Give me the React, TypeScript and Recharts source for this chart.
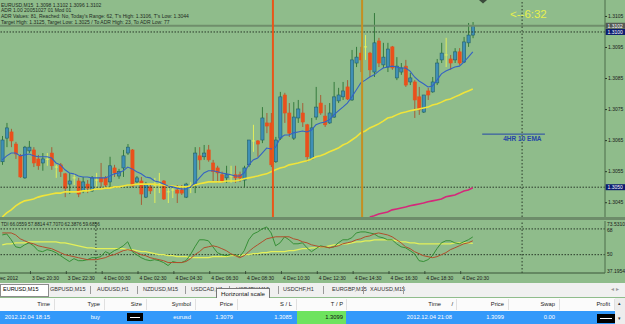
import React from "react";
import { ComposedChart, Bar, Line, XAxis, YAxis, ReferenceLine } from "recharts";

// EURUSD,M15 candles, oldest first
const opens = [
  1.30582, 1.30658, 1.30678, 1.30639, 1.30601, 1.3053, 1.30617, 1.3062, 1.30591, 1.30578,
  1.3059, 1.3061, 1.30565, 1.30572, 1.30543, 1.3051, 1.3053, 1.3052, 1.30488, 1.3051,
  1.30488, 1.30523, 1.3053, 1.3053, 1.30517, 1.30562, 1.30536, 1.30562, 1.3061, 1.3062,
  1.30517, 1.3052, 1.30468, 1.30501, 1.30504, 1.3051, 1.3052, 1.30485, 1.30491, 1.30491,
  1.30491, 1.30468, 1.30504, 1.3051, 1.30601, 1.30598, 1.3062, 1.30578, 1.30562, 1.3054,
  1.3053, 1.30536, 1.3054, 1.3054, 1.30523, 1.30572, 1.30649, 1.30649, 1.30652, 1.30707,
  1.30707, 1.30582, 1.30658, 1.30797, 1.30739, 1.30658, 1.30723, 1.30739, 1.30701, 1.30591,
  1.30726, 1.30771, 1.30729, 1.30707, 1.30726, 1.30778, 1.30791, 1.30823, 1.30781, 1.309,
  1.30932, 1.30952, 1.30932, 1.30871, 1.30971, 1.30894, 1.30887, 1.30952, 1.30852, 1.30871,
  1.3089, 1.30839, 1.30839, 1.30791, 1.30742, 1.3081, 1.30807, 1.30836, 1.3091, 1.30926,
  1.30913, 1.3091, 1.30936, 1.30903, 1.30965, 1.3099,
];
const highs = [
  1.30665, 1.30707, 1.30688, 1.30646, 1.30607, 1.30633, 1.30649, 1.30629, 1.30604, 1.3061,
  1.3061, 1.30629, 1.30572, 1.30578, 1.30546, 1.30546, 1.30546, 1.3053, 1.30533, 1.30523,
  1.30536, 1.30546, 1.30578, 1.30536, 1.30598, 1.30572, 1.30559, 1.3062, 1.30639, 1.30623,
  1.30536, 1.30533, 1.30517, 1.3051, 1.3053, 1.30546, 1.30523, 1.30497, 1.30501, 1.30507,
  1.30507, 1.30514, 1.30517, 1.30629, 1.30629, 1.30636, 1.30636, 1.30588, 1.30569, 1.3055,
  1.30569, 1.30569, 1.30569, 1.3055, 1.30569, 1.30652, 1.30701, 1.30652, 1.30758, 1.30739,
  1.30739, 1.30662, 1.30807, 1.30804, 1.30771, 1.30774, 1.30781, 1.30771, 1.30704, 1.30723,
  1.30823, 1.30797, 1.30765, 1.30771, 1.30839, 1.3082, 1.30839, 1.30845, 1.30942, 1.30952,
  1.30952, 1.3099, 1.30936, 1.31061, 1.30981, 1.30965, 1.30965, 1.30955, 1.30919, 1.309,
  1.3091, 1.30868, 1.30845, 1.30823, 1.30797, 1.3082, 1.30855, 1.30913, 1.30965, 1.30981,
  1.30926, 1.30948, 1.30948, 1.30984, 1.31029, 1.31032,
];
const lows = [
  1.30572, 1.30629, 1.30629, 1.30591, 1.3053, 1.30527, 1.3061, 1.30565, 1.30556, 1.30553,
  1.30569, 1.30556, 1.3053, 1.30533, 1.30468, 1.30478, 1.30507, 1.30468, 1.30481, 1.30481,
  1.30485, 1.30501, 1.30501, 1.30501, 1.30501, 1.30533, 1.30527, 1.30533, 1.30604, 1.30501,
  1.3051, 1.30443, 1.30465, 1.30478, 1.30449, 1.30481, 1.30459, 1.30449, 1.30465, 1.30449,
  1.30475, 1.30465, 1.30481, 1.30481, 1.30556, 1.30588, 1.30582, 1.30517, 1.30514, 1.30514,
  1.30514, 1.30514, 1.30514, 1.30517, 1.30501, 1.30565, 1.30614, 1.30598, 1.30642, 1.30674,
  1.30565, 1.30578, 1.30652, 1.30707, 1.30662, 1.30652, 1.30707, 1.30694, 1.30582, 1.30588,
  1.30717, 1.30733, 1.30694, 1.30704, 1.30723, 1.30771, 1.30781, 1.30781, 1.30778, 1.30887,
  1.30871, 1.3091, 1.30855, 1.30855, 1.30887, 1.30884, 1.30871, 1.30878, 1.30845, 1.30862,
  1.30823, 1.30829, 1.30723, 1.30733, 1.30739, 1.30781, 1.30804, 1.30829, 1.309, 1.30887,
  1.30878, 1.309, 1.30894, 1.309, 1.30952, 1.3098,
];
const closes = [
  1.30652, 1.30691, 1.30649, 1.30607, 1.30533, 1.30629, 1.30629, 1.30578, 1.30569, 1.30591,
  1.3059, 1.30569, 1.30565, 1.3055, 1.30497, 1.3052, 1.3053, 1.30478, 1.30517, 1.30497,
  1.3053, 1.30523, 1.30517, 1.30507, 1.30569, 1.30546, 1.3055, 1.30601, 1.30629, 1.30504,
  1.3053, 1.30478, 1.3051, 1.30488, 1.30504, 1.3051, 1.30462, 1.30485, 1.30491, 1.30481,
  1.30481, 1.3051, 1.30504, 1.3061, 1.30588, 1.3061, 1.30588, 1.3055, 1.30546, 1.30517,
  1.3054, 1.30536, 1.3053, 1.3053, 1.30562, 1.30652, 1.30649, 1.30639, 1.30723, 1.30697,
  1.30572, 1.30652, 1.30791, 1.30739, 1.30674, 1.30726, 1.30752, 1.3071, 1.30598, 1.30691,
  1.30758, 1.30739, 1.30701, 1.30739, 1.30791, 1.30797, 1.3081, 1.30784, 1.3091, 1.30919,
  1.3091, 1.30952, 1.30878, 1.30965, 1.309, 1.30919, 1.30945, 1.30884, 1.3089, 1.30884,
  1.30829, 1.30852, 1.30781, 1.30749, 1.30797, 1.30797, 1.30839, 1.309, 1.30932, 1.30926,
  1.309, 1.30936, 1.309, 1.30968, 1.3099, 1.3102,
];

// moving averages on the price panel
const emaFast = [
  1.30588, 1.30601, 1.3061, 1.3061, 1.30601, 1.30604, 1.30607, 1.30601, 1.30598, 1.30598,
  1.30598, 1.30594, 1.30578, 1.30572, 1.30556, 1.30546, 1.30543, 1.30536, 1.30533, 1.30533,
  1.3053, 1.3053, 1.3053, 1.3053, 1.30536, 1.30543, 1.30546, 1.30553, 1.30565, 1.30559,
  1.3055, 1.30543, 1.30533, 1.3053, 1.3052, 1.30517, 1.3051, 1.30504, 1.30501, 1.30497,
  1.30494, 1.30494, 1.30501, 1.30514, 1.3053, 1.30546, 1.30553, 1.30553, 1.3055, 1.30546,
  1.30543, 1.3054, 1.30536, 1.30536, 1.30546, 1.30572, 1.30588, 1.30594, 1.3061, 1.30626,
  1.30623, 1.30629, 1.30658, 1.30668, 1.30668, 1.30675, 1.30678, 1.30681, 1.30678, 1.30684,
  1.30701, 1.30707, 1.3071, 1.30717, 1.30733, 1.30746, 1.30758, 1.30771, 1.30791, 1.30813,
  1.30836, 1.30845, 1.30855, 1.30862, 1.30874, 1.30884, 1.30887, 1.3089, 1.30887, 1.30884,
  1.30884, 1.30874, 1.30855, 1.30842, 1.30833, 1.30823, 1.30826, 1.30845, 1.30865, 1.30874,
  1.30881, 1.30887, 1.3089, 1.30903, 1.30919, 1.30936,
];
const smaSlow = [
  1.30404, 1.30417, 1.30427, 1.3044, 1.30449, 1.30456, 1.30459, 1.30462, 1.30468, 1.30472,
  1.30475, 1.30478, 1.30481, 1.30481, 1.30485, 1.30485, 1.30485, 1.30485, 1.30488, 1.30488,
  1.30491, 1.30494, 1.30494, 1.30497, 1.30497, 1.30501, 1.30501, 1.30504, 1.30507, 1.30507,
  1.3051, 1.3051, 1.3051, 1.3051, 1.3051, 1.30507, 1.30507, 1.30504, 1.30504, 1.30501,
  1.30501, 1.30501, 1.30504, 1.30507, 1.30511, 1.30514, 1.30517, 1.30517, 1.30517, 1.30517,
  1.3052, 1.3052, 1.3052, 1.30523, 1.30527, 1.3053, 1.30533, 1.30536, 1.3054, 1.30543,
  1.3055, 1.30556, 1.30562, 1.30565, 1.30572, 1.30575, 1.30578, 1.30582, 1.30585, 1.30591,
  1.30598, 1.30601, 1.30607, 1.30614, 1.3062, 1.30626, 1.30636, 1.30642, 1.30652, 1.30662,
  1.30675, 1.30681, 1.30691, 1.30697, 1.30704, 1.30713, 1.30723, 1.30726, 1.30733, 1.30739,
  1.30742, 1.30746, 1.30749, 1.30752, 1.30755, 1.30758, 1.30765, 1.30768, 1.30774, 1.30781,
  1.30784, 1.30791, 1.30797, 1.30804, 1.3081, 1.30816,
];
// slow line entering from the bottom edge, starts at bar 82
const H4_START = 82;
const emaH4 = [
  1.30404, 1.30408, 1.30414, 1.30417, 1.3042, 1.30427, 1.3043, 1.30433, 1.30436, 1.3044,
  1.30443, 1.30446, 1.30449, 1.30453, 1.30456, 1.30459, 1.30462, 1.30469, 1.30472, 1.30475,
  1.30481, 1.30488, 1.30491, 1.30498,
];

// TDI sub-window
const tdiGreen = [
  63.8, 64.5, 60.4, 55.5, 54.8, 56.9, 58.3, 56.2, 52.8, 52.1,
  53.5, 52.8, 51.4, 49.3, 47.2, 45.2, 47.2, 45.8, 45.8, 46.5,
  47.9, 47.9, 48.6, 52.1, 50.7, 52.8, 54.2, 56.2, 59.0, 52.1,
  50.0, 47.9, 46.5, 45.8, 46.5, 45.8, 44.5, 42.4, 45.2, 44.5,
  44.5, 45.8, 50.0, 55.5, 60.4, 60.4, 59.7, 55.5, 51.4, 50.0,
  49.3, 50.0, 50.0, 48.6, 52.8, 60.4, 64.5, 65.9, 68.0, 69.4,
  65.2, 56.2, 58.3, 62.5, 60.4, 57.6, 57.6, 58.3, 54.8, 52.1,
  54.2, 56.2, 55.5, 54.8, 55.5, 58.3, 60.4, 60.4, 61.8, 65.2,
  65.9, 65.9, 65.2, 64.5, 62.5, 61.8, 60.4, 60.4, 57.6, 55.5,
  54.8, 52.8, 50.7, 45.8, 45.2, 46.5, 49.3, 54.2, 58.3, 59.7,
  59.7, 58.3, 57.6, 59.0, 60.4, 62.4,
];
const tdiRed = [
  65.2, 65.2, 65.2, 63.8, 61.1, 59.7, 58.3, 57.6, 56.2, 55.5,
  54.8, 54.2, 52.8, 51.4, 50.0, 49.3, 48.6, 47.9, 47.2, 46.5,
  46.5, 46.5, 47.2, 47.9, 49.3, 50.0, 51.4, 52.8, 53.5, 52.8,
  51.4, 50.0, 49.3, 47.9, 47.2, 46.5, 45.8, 44.5, 44.5, 44.5,
  44.5, 45.2, 47.2, 50.0, 52.1, 54.8, 55.5, 56.2, 55.5, 54.2,
  52.8, 50.7, 49.3, 47.9, 49.3, 52.1, 54.8, 56.9, 59.0, 61.1,
  61.8, 62.5, 62.5, 62.5, 62.5, 61.1, 60.4, 59.0, 58.3, 56.9,
  56.2, 55.5, 55.5, 54.8, 55.5, 56.2, 57.6, 58.3, 59.0, 60.4,
  61.1, 62.5, 63.1, 64.5, 65.2, 64.5, 63.8, 62.5, 60.4, 58.3,
  55.5, 54.2, 52.1, 50.7, 49.3, 48.6, 47.9, 48.6, 50.0, 51.4,
  53.5, 54.8, 56.2, 57.6, 58.3, 59.7,
];
const tdiYellow = [
  56.9, 57.6, 57.6, 58.3, 58.3, 58.3, 59.0, 59.0, 59.0, 59.0,
  59.0, 59.0, 59.0, 58.3, 58.3, 57.6, 56.9, 56.2, 55.5, 54.8,
  54.8, 54.2, 54.2, 54.2, 54.2, 54.2, 54.2, 54.2, 53.5, 53.5,
  52.8, 52.1, 52.1, 51.4, 50.7, 50.0, 50.0, 49.3, 49.3, 48.6,
  48.6, 48.6, 47.9, 47.9, 47.9, 47.9, 47.9, 48.6, 48.6, 48.6,
  48.6, 49.3, 49.3, 49.3, 50.0, 50.0, 50.7, 50.7, 51.4, 51.4,
  52.1, 52.1, 52.1, 52.1, 52.8, 52.8, 53.5, 54.2, 54.2, 54.8,
  54.8, 55.5, 55.5, 56.2, 56.9, 56.9, 57.6, 57.6, 58.3, 59.0,
  59.0, 59.7, 59.7, 60.4, 60.4, 60.4, 60.4, 60.4, 59.7, 59.0,
  59.0, 58.3, 58.3, 57.6, 57.6, 57.6, 57.6, 57.6, 57.6, 57.6,
  57.6, 58.3, 58.3, 58.3, 58.3, 57.9,
];

const priceTicks = [1.3045, 1.3055, 1.3065, 1.3075, 1.3085, 1.3095, 1.3105];
const tdiTicks = [37.1954, 50, 68, 73.531];
const timeLabels = [
  "3 Dec 2012", "3 Dec 20:30", "3 Dec 22:30", "4 Dec 00:30", "4 Dec 02:30",
  "4 Dec 04:30", "4 Dec 06:30", "4 Dec 08:30", "4 Dec 10:30", "4 Dec 12:30",
  "4 Dec 14:30", "4 Dec 16:30", "4 Dec 18:30", "4 Dec 20:30",
];
const timeTicks = [-0.5, 6.3, 14.3, 22.3, 30.3, 38.3, 46.3, 54.3, 62.3, 70.3, 78.3, 86.3, 94.3, 102.3];

const tabLabels = ["EURUSD,M15", "GBPUSD,M15", "AUDUSD,H1", "NZDUSD,M15", "USDCAD,H1", "USDJPY,M15", "USDCHF,H1", "EURGBP,M15", "XAUUSD,M15"];
const headerLabels = ["Time", "Type", "Size", "Symbol", "Price", "S / L", "T / P", "Time", "Price", "Swap", "Profit"];
const rowValues = ["2012.12.04 18:15", "buy", "", "eurusd", "1.3079", "1.3085", "1.3099", "2012.12.04 21:08", "1.3099", "0.00", ""];

const infoLines = [
  "EURUSD,M15  1.3098 1.3102 1.3096 1.3102",
  "ADR 1.00 20051027 01 Mod 01",
  "ADR Values: 81, Reached: No, Today's Range: 62, T's High: 1.3106, T's Low: 1.3044",
  "Target High: 1.3125, Target Low: 1.3025 / To ADR High: 23, To ADR Low: 77",
];
const tdiLabel = "TDI 66.0559 57.8814 47.7070 62.3876 59.6856";

const BG = "#8fbc8b";
const UP_BODY = "#3f8fb6";
const UP_EDGE = "#22606a";
const UP_WICK = "#2b7434";
const DOWN_BODY = "#ea501c";
const DOWN_WICK = "#a8542c";
const DOJI = "#e2ee5c";
const X_DOMAIN: [number, number] = [-0.5, 134.5];
const FONT = "'Liberation Sans', Arial, sans-serif";

const mainData = opens.map((o, i) => ({
  i,
  open: o,
  high: highs[i],
  low: lows[i],
  close: closes[i],
  range: [lows[i], highs[i]],
  ema: emaFast[i],
  sma: smaSlow[i],
  h4: i >= H4_START ? emaH4[i - H4_START] : null,
}));

const tdiData = tdiGreen.map((g, i) => ({ i, green: g, red: tdiRed[i], yellow: tdiYellow[i] }));

function Candle(props: any) {
  const { x, y, width, height, payload } = props;
  if (!payload || x == null) return null;
  const { open, high, low, close } = payload;
  const top = Math.min(y, y + height);
  const bottom = Math.max(y, y + height);
  const k = high > low ? (bottom - top) / (high - low) : 0;
  const py = (v: number) => top + (high - v) * k;
  const cx = x + width / 2;
  if (open === close) {
    return (
      <g>
        <line x1={cx} x2={cx} y1={top} y2={bottom} stroke={DOJI} strokeWidth={1} />
        <line x1={cx - 1.6} x2={cx + 1.6} y1={py(open)} y2={py(open)} stroke={DOJI} strokeWidth={1} />
      </g>
    );
  }
  const up = close > open;
  const bTop = py(Math.max(open, close));
  const bBot = py(Math.min(open, close));
  return (
    <g>
      <line x1={cx} x2={cx} y1={top} y2={bottom} stroke={up ? UP_WICK : DOWN_WICK} strokeWidth={0.9} />
      <rect
        x={cx - 1.6}
        y={bTop}
        width={3.2}
        height={Math.max(bBot - bTop, 1)}
        fill={up ? UP_BODY : DOWN_BODY}
        stroke={up ? UP_EDGE : DOWN_BODY}
        strokeWidth={0.6}
      />
    </g>
  );
}

function PriceBox(props: any) {
  const { viewBox, text, bg } = props;
  if (!viewBox) return null;
  const x = viewBox.x + viewBox.width;
  const y = viewBox.y;
  return (
    <g>
      <rect x={x + 0.5} y={y - 3} width={20} height={6} fill={bg} />
      <text x={x + 2.5} y={y + 1.9} fontSize={5} fill="#ffffff">{text}</text>
    </g>
  );
}

function EmaTag(props: any) {
  const { viewBox } = props;
  if (!viewBox) return null;
  return (
    <text x={viewBox.x + 21} y={viewBox.y + 6.5} fontSize={6.5} fontWeight="bold" fill="#2546a8">
      4HR 10 EMA
    </text>
  );
}

function TimeTick(props: any) {
  const { x, y, index } = props;
  const label = timeLabels[index];
  if (index === 0) {
    return <text x={x - 7.5} y={y + 6.5} fontSize={5} fill="#1a1a1a">{label}</text>;
  }
  return (
    <g>
      <line x1={x} x2={x} y1={y - 2} y2={y + 1} stroke="#2a3a2a" strokeWidth={0.8} />
      <text x={x + 1.5} y={y + 6.5} fontSize={5} fill="#1a1a1a">{label}</text>
    </g>
  );
}

function TdiTick(props: any) {
  const { x, y, payload } = props;
  const v = payload.value;
  let label = String(v);
  let dy = 1.8;
  if (v === 73.531) {
    label = "73.5310";
    dy = 4.6;
  } else if (v === 37.1954) {
    label = "37.1954";
    dy = -0.4;
  } else if (v === 68) {
    dy = 2.6;
  }
  return <text x={x} y={y + dy} fontSize={5} fill="#1a1a1a">{label}</text>;
}

const cell = (left: number, top: number, extra: any = {}) => ({
  position: "absolute" as const,
  left,
  top,
  whiteSpace: "pre" as const,
  lineHeight: "1",
  ...extra,
});

export default function App() {
  const tabX = [3, 50, 97, 143, 191, 236, 283, 332, 370];
  const sepX = [90, 137, 185, 229, 278, 323, 363, 403];
  const colRight = [50, 100, 142, 191, 233, 292, 343, 441, 504, 555, 610];
  const colDiv = [54, 104, 146, 195, 237, 296, 346, 456, 508, 559, 614];

  return (
    <div
      style={{
        position: "absolute",
        left: 0,
        top: 0,
        width: 625,
        height: 324,
        overflow: "hidden",
        background: BG,
        fontFamily: FONT,
      }}
    >
      {/* price panel */}
      <div style={{ position: "absolute", left: 0, top: 0 }}>
        <ComposedChart width={625} height={217} data={mainData} margin={{ top: 0, right: 0, bottom: 0, left: 0 }}>
          <XAxis type="number" dataKey="i" domain={X_DOMAIN} allowDataOverflow hide />
          <YAxis
            orientation="right"
            width={20}
            domain={[1.30404, 1.31103]}
            allowDataOverflow
            ticks={priceTicks}
            interval={0}
            tickFormatter={(v: number) => v.toFixed(4)}
            tick={{ fontSize: 5, fill: "#1a1a1a" }}
            tickSize={2}
            tickMargin={1}
            axisLine={{ stroke: "#4d6c4a" }}
            tickLine={{ stroke: "#2a3a2a" }}
          />
          <ReferenceLine y={1.3102} stroke="#6f8e6b" strokeWidth={2} label={<PriceBox text="1.3102" bg="#555a55" />} />
          <ReferenceLine y={1.31} stroke="#2a3a2a" strokeDasharray="1.5 1.5" label={<PriceBox text="1.3100" bg="#0c1c70" />} />
          <ReferenceLine y={1.305} stroke="#2a3a2a" strokeDasharray="1.5 1.5" label={<PriceBox text="1.3050" bg="#0c1c70" />} />
          <ReferenceLine x={116} stroke="#2a3a2a" strokeDasharray="1.5 2" />
          <ReferenceLine
            segment={[{ x: 107.1, y: 1.30671 }, { x: 121.1, y: 1.30671 }]}
            stroke="#2546a8"
            strokeWidth={1}
            label={<EmaTag />}
          />
          <Bar dataKey="range" barSize={3} isAnimationActive={false} activeBar={false} shape={(p: any) => <Candle {...p} />} />
          <Line dataKey="sma" type="linear" stroke="#f0e43a" strokeWidth={1.6} dot={false} activeDot={false} isAnimationActive={false} />
          <Line dataKey="h4" type="linear" stroke="#d4287a" strokeWidth={1.6} dot={false} activeDot={false} isAnimationActive={false} connectNulls={false} />
          <Line dataKey="ema" type="linear" stroke="#3462c4" strokeWidth={1.1} dot={false} activeDot={false} isAnimationActive={false} />
          <ReferenceLine x={60.4} stroke="#e8561a" strokeWidth={2} />
          <ReferenceLine x={80.3} stroke="#c48f22" strokeWidth={2} />
        </ComposedChart>
      </div>

      {/* info text and labels on the price panel */}
      {infoLines.map((t, k) => (
        <div key={t} style={cell(1, 2.5 + k * 5.8, { fontSize: 5, color: "#1e2a1e" })}>{t}</div>
      ))}
      <div style={cell(510, 9, { fontSize: 11.5, color: "#e6f04e" })}>{"<--6:32"}</div>
      <svg style={{ position: "absolute", left: 478, top: 0 }} width={10} height={4}>
        <polygon points="1,0 9,0 5,3.5" fill="#3a4a3a" />
      </svg>

      {/* separator */}
      <div style={{ position: "absolute", left: 0, top: 217, width: 625, height: 3, background: "#6d8c6a" }} />

      {/* TDI panel + time scale */}
      <div style={{ position: "absolute", left: 0, top: 220 }}>
        <ComposedChart width={625} height={63} data={tdiData} margin={{ top: 1, right: 0, bottom: 0, left: 0 }}>
          <XAxis
            type="number"
            dataKey="i"
            domain={X_DOMAIN}
            allowDataOverflow
            ticks={timeTicks}
            interval={0}
            height={10}
            tickSize={0}
            tickMargin={0}
            tickLine={false}
            axisLine={{ stroke: "#3b5538" }}
            tick={(p: any) => <TimeTick {...p} />}
          />
          <YAxis
            orientation="right"
            width={20}
            domain={[37.1954, 73.531]}
            allowDataOverflow
            ticks={tdiTicks}
            interval={0}
            tickSize={0}
            tickMargin={2}
            tickLine={false}
            axisLine={{ stroke: "#4d6c4a" }}
            tick={(p: any) => <TdiTick {...p} />}
          />
          <ReferenceLine y={68} stroke="#2a3a2a" strokeDasharray="1.5 1.5" />
          <ReferenceLine y={50} stroke="#2a3a2a" strokeDasharray="1.5 1.5" />
          <ReferenceLine x={20.9} stroke="#2a3a2a" strokeDasharray="1.5 2" />
          <ReferenceLine x={116} stroke="#2a3a2a" strokeDasharray="1.5 2" />
          <Line dataKey="yellow" stroke="#e4f05a" strokeWidth={1.2} dot={false} activeDot={false} isAnimationActive={false} />
          <Line dataKey="green" stroke="#2c8a2c" strokeWidth={0.9} dot={false} activeDot={false} isAnimationActive={false} />
          <Line dataKey="red" stroke="#b04e2c" strokeWidth={1} dot={false} activeDot={false} isAnimationActive={false} />
        </ComposedChart>
      </div>
      <div style={cell(1, 222.5, { fontSize: 4.7, color: "#1e2a1e" })}>{tdiLabel}</div>

      {/* symbol tabs */}
      <div style={{ position: "absolute", left: 0, top: 283, width: 625, height: 14, background: "#f0f0f0", fontSize: 5.5, color: "#333" }}>
        <div style={{ position: "absolute", left: 0, top: 1, width: 47, height: 11, background: "#fff", border: "1px solid #8c8c8c" }} />
        {tabLabels.map((t, k) => (
          <div key={t} style={cell(tabX[k], 4, { color: k === 0 ? "#000" : "#333" })}>{t}</div>
        ))}
        {sepX.map((x) => (
          <div key={x} style={{ position: "absolute", left: x, top: 3, width: 1, height: 8, background: "#9a9a9a" }} />
        ))}
        <div style={cell(611, 4, { color: "#999" })}>{"◂ ▸"}</div>
      </div>

      {/* tooltip */}
      <div
        style={{
          position: "absolute",
          left: 216,
          top: 288,
          width: 52,
          height: 10,
          background: "#f7f7f7",
          border: "1px solid #767676",
          fontSize: 6.2,
          color: "#111",
          lineHeight: "10px",
          textAlign: "center",
          whiteSpace: "nowrap",
        }}
      >
        Horizontal scale
      </div>

      {/* trade table header */}
      <div style={{ position: "absolute", left: 0, top: 298, width: 625, height: 13, background: "#fbfbfb", borderBottom: "1px solid #d6d6d6", fontSize: 5.8, color: "#222" }}>
        {headerLabels.map((t, k) => (
          <div key={k} style={cell(0, 4, { left: undefined, right: 625 - colRight[k] })}>{t}</div>
        ))}
        <div style={cell(0, 4, { left: undefined, right: 625 - 453 })}>/</div>
        {colDiv.map((x) => (
          <div key={x} style={{ position: "absolute", left: x, top: 1, width: 1, height: 11, background: "#e0e0e0" }} />
        ))}
      </div>

      {/* selected trade row */}
      <div style={{ position: "absolute", left: 0, top: 311, width: 615, height: 13, background: "#3399fa", fontSize: 5.8, color: "#fff" }}>
        <div style={{ position: "absolute", left: 297, top: 0, width: 49, height: 13, background: "#6ee35e" }} />
        <div style={{ position: "absolute", left: 127, top: 2, width: 16, height: 8, background: "#000" }}>
          <div style={{ position: "absolute", left: 3, top: 3.5, width: 10, height: 1, background: "#fff" }} />
        </div>
        <div style={{ position: "absolute", left: 597, top: 3, width: 18, height: 9, background: "#000" }}>
          <div style={{ position: "absolute", left: 3, top: 4, width: 12, height: 1, background: "#fff" }} />
        </div>
        {rowValues.map((t, k) =>
          t ? (
            <div key={k} style={cell(0, 4, { left: undefined, right: 615 - colRight[k] - (k === 7 ? 11 : 0), color: k === 6 ? "#111" : "#fff" })}>
              {t}
            </div>
          ) : null
        )}
      </div>

      {/* scroll bar */}
      <div style={{ position: "absolute", left: 615, top: 298, width: 10, height: 26, background: "#ededed", fontSize: 5, color: "#333" }}>
        <div style={cell(3, 3)}>▴</div>
        <div style={cell(3, 18)}>▾</div>
      </div>
    </div>
  );
}
